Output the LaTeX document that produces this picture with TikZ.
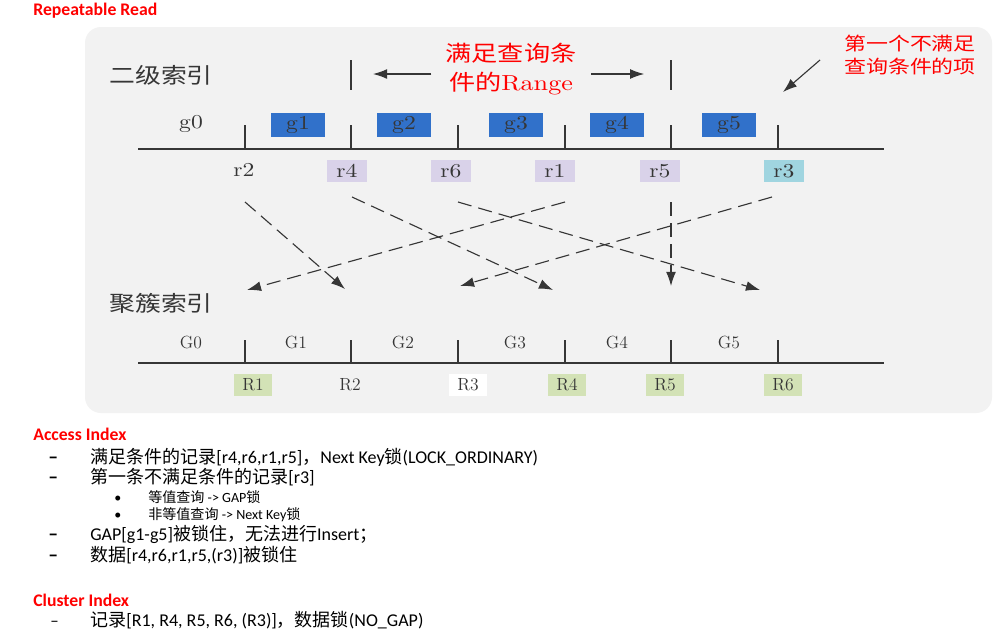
\documentclass[tikz,border=0pt]{standalone}
\usepackage{fontspec}
\usetikzlibrary{arrows.meta}

\newfontfamily\cjk{Noto Sans CJK SC}
\newfontfamily\cjkwide[FakeStretch=1.2]{Noto Sans CJK SC}
\newfontfamily\lmwide[FakeStretch=1.2]{lmroman10-regular.otf}
\newfontfamily\calib{Carlito}
\newcommand{\zh}[1]{{\cjk #1}}

\definecolor{panel}{HTML}{F2F2F2}
\definecolor{ink}{HTML}{363636}
\definecolor{gblue}{HTML}{3171CA}
\definecolor{rlav}{HTML}{D9D2E9}
\definecolor{rcyan}{HTML}{A0D5E0}
\definecolor{Rgreen}{HTML}{D3E2B6}

\begin{document}
\begin{tikzpicture}[x=0.025cm, y=-0.025cm, >={Latex[length=10pt,width=7pt]},
  axisline/.style={line width=0.8pt, ink},
  tickline/.style={line width=0.8pt, ink},
  idxname/.style={inner sep=0pt, text=ink, font=\cjkwide\fontsize{15.3}{16}\selectfont},
  lab/.style={inner sep=0pt, text=ink, font=\lmwide\fontsize{14}{14}\selectfont},
  gbox/.style={lab, fill=gblue, minimum width=1.33cm, minimum height=0.58cm},
  rbox/.style={lab, fill=rlav, minimum width=1cm, minimum height=0.55cm},
  clab/.style={inner sep=0pt, text=ink, font=\fontsize{12.5}{12.5}\selectfont},
  Rbox/.style={clab, fill=Rgreen, minimum width=0.93cm, minimum height=0.55cm},
  link/.style={->, ink, line width=0.8pt, dash pattern=on 10pt off 5pt},
  redtxt/.style={text=red, align=center, inner sep=0pt},
  heading/.style={anchor=base west, inner sep=0pt, text=red, font=\calib\bfseries\fontsize{12.6}{14}\selectfont},
  lineitem/.style={anchor=base west, inner sep=0pt, font=\calib\fontsize{12.8}{14}\selectfont},
  subline/.style={anchor=base west, inner sep=0pt, font=\calib\fontsize{10}{12}\selectfont},
  dashmark/.style={anchor=base west, inner sep=0pt, font=\calib\bfseries\fontsize{14}{14}\selectfont},
]
  % page 1004 x 634 px, 1 px = 0.025 cm
  \fill[white] (0,0) rectangle (1004,634);
  \useasboundingbox (0,0) rectangle (1004,634);

  \node[heading] (rr) at (33,15) {Repeatable Read};

  % grey panel
  \fill[panel, rounded corners=0.4cm] (85,27) rectangle (992,413);

  \node[idxname] (sec) at (161,75) {二级索引};
  \node[idxname] (clu) at (161,303) {聚簇索引};

  % secondary index
  \draw[axisline] (138,149) -- (884,149);
  \foreach \x in {245,351,458,565,671,778}
    \draw[tickline] (\x,125) -- (\x,149);
  \node[lab] (g0) at (191,124) {g0};
  \foreach \n/\x in {1/298,2/404,3/516,4/617,5/729}
    \node[gbox] (g\n) at (\x,125) {g\n};
  \node[lab] (r2) at (244,170) {r2};
  \foreach \n/\x in {4/347,6/451,1/555,5/660}
    \node[rbox] (r\n) at (\x,171) {r\n};
  \node[rbox, fill=rcyan] (r3) at (784,171) {r3};

  % range of the query
  \coordinate (lo) at (351,74);
  \coordinate (hi) at (671,74);
  \draw[tickline] (351,60) -- (351,90);
  \draw[tickline] (671,60) -- (671,90);
  \node[redtxt, font=\cjkwide\fontsize{15.5}{20}\selectfont] (range) at (511,69) {满足查询条\\件的{\lmwide Range}};
  \draw[->, ink, line width=0.8pt, shorten <=0.35cm, shorten >=0.55cm] (range.west |- lo) -- (lo);
  \draw[->, ink, line width=0.8pt, shorten <=0.37cm, shorten >=0.67cm] (range.east |- hi) -- (hi);

  \node[redtxt, font=\cjkwide\fontsize{13}{17}\selectfont] (miss) at (910,55) {第一个不满足\\查询条件的项};
  \coordinate (missfrom) at (820,60);
  \coordinate (missto) at (783,92);
  \draw[->, ink, line width=0.8pt] (missfrom) -- (missto);

  % cluster index
  \draw[axisline] (138,363) -- (884,363);
  \foreach \x in {245,351,458,565,671,778}
    \draw[tickline] (\x,340) -- (\x,363);
  \foreach \n/\x in {0/191,1/296,2/403,3/515,4/617,5/729}
    \node[clab] (G\n) at (\x,342) {G\n};
  \node[Rbox] (R1) at (253,385) {R1};
  \node[clab] (R2) at (350,385) {R2};
  \node[Rbox, fill=white] (R3) at (468,385) {R3};
  \node[Rbox] (R4) at (567,385) {R4};
  \node[Rbox] (R5) at (665,385) {R5};
  \node[Rbox] (R6) at (783,385) {R6};

  % record lookups r -> R
  \foreach \k/\sx/\sy/\ex/\ey in {2/245/202/345/289, 4/352/197/553/290, 6/458/202/760/290,
                                  1/565/202/247/290, 5/671/202/671/286, 3/772/197/460/286} {
    \coordinate (s\k) at (\sx,\sy);
    \coordinate (e\k) at (\ex,\ey);
    \draw[link] (s\k) -- (e\k);
  }

  % notes
  \node[heading] (acc) at (33,440) {Access Index};
  \node[dashmark] (d1) at (48,463) {–};
  \node[lineitem] (t1) at (90,463) {\zh{满足条件的记录}[r4,r6,r1,r5]\zh{，}Next Key\zh{锁}(LOCK\_ORDINARY)};
  \node[dashmark] (d2) at (48,483) {–};
  \node[lineitem] (t2) at (90,483) {\zh{第一条不满足条件的记录}[r3]};
  \node[subline] (b1) at (114,502) {•};
  \node[subline] (u1) at (148,502) {\zh{等值查询} -> GAP\zh{锁}};
  \node[subline] (b2) at (114,519) {•};
  \node[subline] (u2) at (148,519) {\zh{非等值查询} -> Next Key\zh{锁}};
  \node[dashmark] (d3) at (48,540) {–};
  \node[lineitem] (t3) at (90,540) {GAP[g1-g5]\zh{被锁住，无法进行}Insert\zh{；}};
  \node[dashmark] (d4) at (48,561) {–};
  \node[lineitem] (t4) at (90,561) {\zh{数据}[r4,r6,r1,r5,(r3)]\zh{被锁住}};

  \node[heading] (clx) at (33,606) {Cluster Index};
  \node[dashmark, font=\calib\fontsize{12}{12}\selectfont] (d5) at (50,626) {–};
  \node[lineitem] (t5) at (90,626) {\zh{记录}[R1, R4, R5, R6, (R3)]\zh{，数据锁}(NO\_GAP)};
\end{tikzpicture}
\end{document}
